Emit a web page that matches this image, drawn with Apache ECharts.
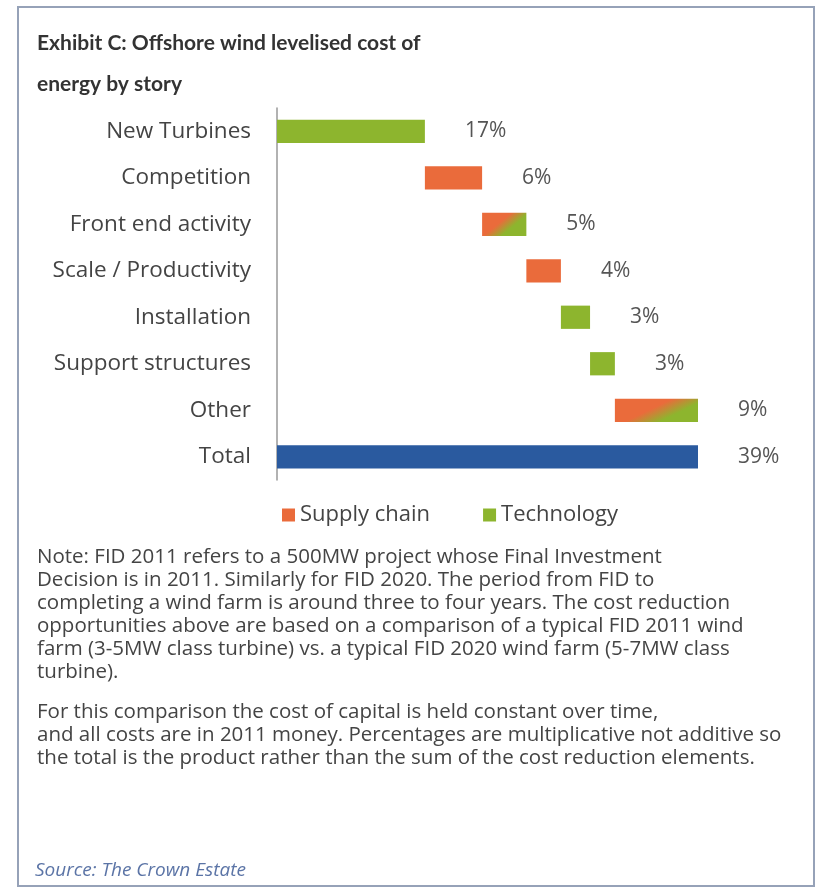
<!DOCTYPE html>
<html>
<head>
<meta charset="utf-8">
<script src="https://cdn.jsdelivr.net/npm/echarts@6/dist/echarts.min.js"></script>
<style>html,body{margin:0;padding:0;background:#fff;}#c{width:821px;height:889px;}</style>
</head>
<body>
<div id="c"></div>
<script>
const categories = ['New Turbines','Competition','Front end activity','Scale / Productivity','Installation','Support structures','Other','Total'];
const barValues = [13.7, 5.3, 4.1, 3.2, 2.7, 2.3, 7.7, 39];
const valueLabels = ['17%','6%','5%','4%','3%','3%','9%','39%'];
const storyType = ['technology','supply','mixed','supply','technology','technology','mixed','total'];
const legendNames = ['Supply chain','Technology'];
const titleLines = ['Exhibit C: Offshore wind levelised cost of','energy by story'];
const noteLines = [
 'Note: FID 2011 refers to a 500MW project whose Final Investment',
 'Decision is in 2011. Similarly for FID 2020. The period from FID to',
 'completing a wind farm is around three to four years. The cost reduction',
 'opportunities above are based on a comparison of a typical FID 2011 wind',
 'farm (3-5MW class turbine) vs. a typical FID 2020 wind farm (5-7MW class',
 'turbine).'
];
const noteLines2 = [
 'For this comparison the cost of capital is held constant over time,',
 'and all costs are in 2011 money. Percentages are multiplicative not additive so',
 'the total is the product rather than the sum of the cost reduction elements.'
];
const sourceText = 'Source: The Crown Estate';

const ORANGE = '#ea6b3b', GREEN = '#8db52e', BLUE = '#2a5a9f';
const FONT = '"Open Sans"';

// waterfall bases from cumulative values
const bases = [];
let acc = 0;
barValues.forEach((v, i) => {
  if (storyType[i] === 'total') { bases.push(0); } else { bases.push(acc); acc += v; }
});

function mixGradient(i) {
  const x2 = i === 2 ? 0.44 : 0.21;
  const y2 = i === 2 ? 1.0 : 1.56;
  return new echarts.graphic.LinearGradient(0, 0, x2, y2, [
    {offset: 0, color: ORANGE}, {offset: 0.62, color: ORANGE}, {offset: 1, color: GREEN}
  ]);
}

const labelOpt = {show: true, position: 'right', distance: 40, color: '#555', fontSize: 21, fontFamily: FONT,
  formatter: p => valueLabels[p.dataIndex]};

const supplyData = barValues.map((v, i) => {
  if (storyType[i] === 'supply') return v;
  if (storyType[i] === 'mixed') return {value: v, itemStyle: {color: mixGradient(i)}};
  return '-';
});
const techData = barValues.map((v, i) => storyType[i] === 'technology' ? v : '-');
const totalData = barValues.map((v, i) => storyType[i] === 'total' ? v : '-');

const chart = echarts.init(document.getElementById('c'));
const graphics = [
  {type: 'rect', shape: {x: 18, y: 7, width: 796, height: 879}, style: {fill: 'none', stroke: '#96a2b8', lineWidth: 2}, silent: true},
];
titleLines.forEach((t, k) => graphics.push({type: 'text', left: 37, top: 33 + k * 41,
  style: {text: t, fill: '#333', font: 'bold 21px Lato'}}));
noteLines.forEach((t, k) => graphics.push({type: 'text', left: 37, top: 547 + k * 23,
  style: {text: t, fill: '#444', font: '20.5px ' + FONT}}));
noteLines2.forEach((t, k) => graphics.push({type: 'text', left: 37, top: 702 + k * 23,
  style: {text: t, fill: '#444', font: '20.5px ' + FONT}}));
graphics.push({type: 'text', left: 35, top: 861, style: {text: sourceText, fill: '#5b74a6', font: 'italic 19px ' + FONT}});

chart.setOption({
  animation: false,
  backgroundColor: '#fff',
  graphic: graphics,
  legend: {
    data: legendNames, top: 499, left: 277, icon: 'rect', itemWidth: 13, itemHeight: 13, itemGap: 53,
    textStyle: {color: '#444', fontSize: 22, fontFamily: FONT}
  },
  grid: {left: 277, right: 123, top: 108, bottom: 409, containLabel: false},
  xAxis: {type: 'value', min: 0, max: 39, show: false},
  yAxis: {
    type: 'category', data: categories, inverse: true,
    axisLine: {show: true, lineStyle: {color: '#999', width: 1.5}},
    axisTick: {show: false},
    axisLabel: {color: '#444', fontSize: 22.5, fontFamily: FONT, margin: 26}
  },
  series: [
    {name: 'base', type: 'bar', stack: 'w', data: bases, barWidth: '50%', itemStyle: {color: 'transparent'}, silent: true},
    {name: 'Supply chain', type: 'bar', stack: 'w', data: supplyData, itemStyle: {color: ORANGE}, label: labelOpt},
    {name: 'Technology', type: 'bar', stack: 'w', data: techData, itemStyle: {color: GREEN}, label: labelOpt},
    {name: 'Total', type: 'bar', stack: 'w', data: totalData, itemStyle: {color: BLUE}, label: labelOpt}
  ]
});
</script>
</body>
</html>
